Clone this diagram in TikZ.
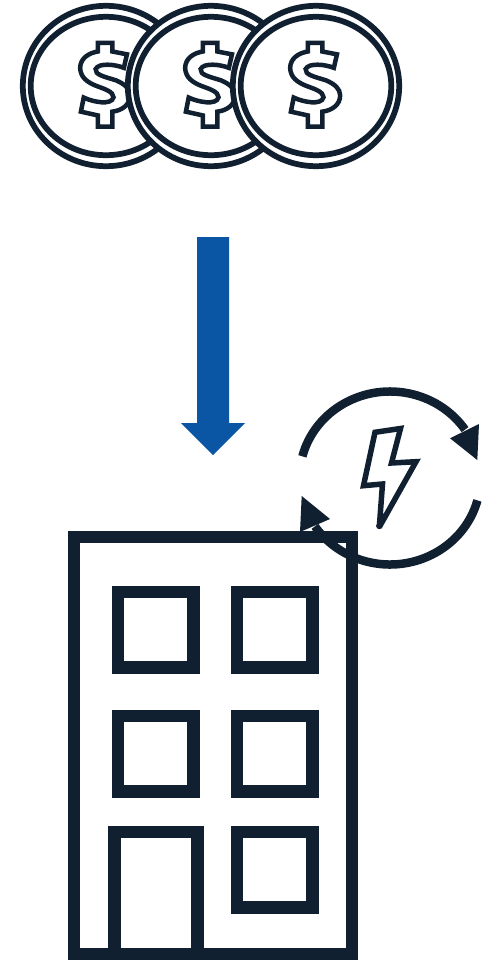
\documentclass[tikz,border=0pt]{standalone}
\usepackage{xcolor}
\usepackage{tikz}
\definecolor{icondark}{RGB}{17, 32, 48}
\definecolor{arrowblue}{RGB}{10, 86, 165}
\begin{document}
\begin{tikzpicture}[x=0.02cm, y=-0.02cm,
    coinring/.style={draw=icondark,fill=white,line width=0.115cm},
    dollarline/.style={draw=icondark,fill=white,line width=0.09cm,miter limit=4},
    wall/.style={draw=icondark,line width=0.25cm,miter limit=10},
    cycleline/.style={draw=icondark,line width=0.17cm},
    cyclehead/.style={fill=icondark},
    boltline/.style={draw=icondark,line width=0.11cm,miter limit=3}]
\useasboundingbox (0,0) rectangle (481,960);

% Coins
\foreach \cx in {106,211,316} {
  \begin{scope}[shift={(\cx,86)}]
    \draw[coinring] (0,0) ellipse [x radius=83.2, y radius=80.2];
    \draw[coinring] (0,0) ellipse [x radius=75.3, y radius=69.2];
    \draw[dollarline,scale=0.94] (-8.7,-46) -- (6.7,-46) -- (6.7,-36.7) -- (22.3,-33.7) -- (19,-19.3)
      .. controls (10,-23) and (-8,-25) .. (-11,-18)
      .. controls (-12,-12) and (-2,-10) .. (10.7,-6)
      .. controls (20,-2) and (25.7,3) .. (25.7,10)
      .. controls (25.7,20) and (17,26) .. (6.7,27.3)
      -- (6.7,43.3) -- (-8.7,43.3) -- (-8.7,31.3) -- (-26.7,27.3) -- (-23.7,12.3)
      .. controls (-14,17) and (6,21) .. (8,12)
      .. controls (8,6) and (-2,3) .. (-10,0)
      .. controls (-20,-4) and (-27,-9) .. (-27.5,-19)
      .. controls (-27.5,-29) and (-19,-35) .. (-8.7,-36.7) -- cycle;
  \end{scope}
}

% Blue arrow
\fill[arrowblue] (197,237) -- (229,237) -- (229,423) -- (245,423) -- (213,455)
  -- (181,423) -- (197,423) -- cycle;

% Building
\draw[wall] (74,960) -- (74,537) -- (352,537) -- (352,960);
\draw[wall] (68,954.5) -- (358,954.5);
\foreach \wx/\wy in {118/592,237/592,118/716,237/716,237/832} {
  \draw[wall] (\wx,\wy) rectangle ++(75.5,75.5);
}
\draw[wall] (114.5,954) -- (114.5,832) -- (197.5,832) -- (197.5,954);

% Cycle arrows
\coordinate (C) at (390,478);
\draw[cycleline] (C) ++(194.5:90.5 and 86.5) arc [start angle=194.5, end angle=326, x radius=90.5, y radius=86.5];
\fill[cyclehead] (450,438.3) -- (479,424) -- (477.3,460) -- cycle;
\draw[cycleline] (C) ++(15:90.5 and 86.5) arc [start angle=15, end angle=146, x radius=90.5, y radius=86.5];
\fill[cyclehead] (301.7,496) -- (330,519) -- (300,532) -- cycle;

% Bolt
\draw[boltline] (375,432.3) -- (400.5,428.5) -- (391.5,463) -- (416,461.7)
  -- (379.3,527) -- (382.5,484) -- (363.5,485.7) -- cycle;
\fill[icondark] (379.3,526) circle (3.2);
\end{tikzpicture}
\end{document}
